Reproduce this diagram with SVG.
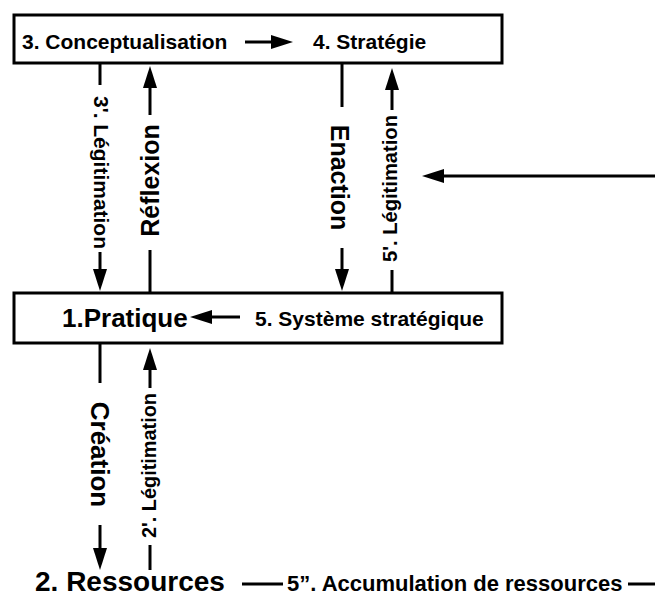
<svg xmlns="http://www.w3.org/2000/svg" width="655" height="598" viewBox="0 0 655 598">
<style>
  text { font-family: "Liberation Sans", Arial, sans-serif; font-weight: bold; fill: #000; }
  .box { fill: #fff; stroke: #000; stroke-width: 3; }
  .ln { stroke: #000; stroke-width: 3; fill: none; }
  .arr { stroke: #000; stroke-width: 3; fill: none; marker-end: url(#ah); }
  .t21 { font-size: 21px; }
  .lbl { font-size: 25px; text-anchor: middle; }
  .leg { font-size: 20px; text-anchor: middle; }
</style>
<defs>
  <marker id="ah" viewBox="0 0 22 14" markerWidth="22" markerHeight="14" refX="0" refY="7" orient="auto" markerUnits="userSpaceOnUse">
    <path d="M0,0 L22,7 L0,14 z" fill="#000"/>
  </marker>
</defs>
<rect width="655" height="598" fill="#fff"/>

<g id="box-top">
  <rect class="box" x="14" y="15" width="488" height="48"/>
  <g id="n-conceptualisation"><text class="t21" x="22" y="49">3. Conceptualisation</text></g>
  <g id="n-strategie"><text class="t21" x="313" y="49">4. Stratégie</text></g>
</g>

<g id="box-bottom">
  <rect class="box" x="14" y="293" width="488" height="50"/>
  <g id="n-pratique"><text x="62" y="327" style="font-size:26px">1.Pratique</text></g>
  <g id="n-systeme"><text class="t21" x="255" y="326">5. Système stratégique</text></g>
</g>

<g id="n-ressources"><text x="35" y="591" style="font-size:28px">2. Ressources</text></g>

<g id="connectors">
  <!-- 3 -> 4 -->
  <line class="arr" x1="245" y1="42" x2="271" y2="42"/>
  <!-- 5 -> 1 -->
  <line class="arr" x1="240" y1="317" x2="212" y2="317"/>

  <!-- 3'. Légitimation (down) -->
  <line class="ln" x1="100" y1="63" x2="100" y2="85"/>
  <line class="arr" x1="100" y1="252" x2="100" y2="269"/>
  <text class="leg" transform="translate(93.5,172.5) rotate(90)" textLength="153" lengthAdjust="spacingAndGlyphs">3'. Légitimation</text>

  <!-- Réflexion (up) -->
  <line class="ln" x1="150" y1="292" x2="150" y2="250"/>
  <line class="arr" x1="150" y1="115" x2="150" y2="88"/>
  <text class="lbl" transform="translate(158.5,180.5) rotate(-90)">Réflexion</text>

  <!-- Enaction (down) -->
  <line class="ln" x1="342" y1="63" x2="342" y2="107"/>
  <line class="arr" x1="342" y1="248" x2="342" y2="269"/>
  <text class="lbl" transform="translate(331,177.5) rotate(90)">Enaction</text>

  <!-- 5'. Légitimation (up) -->
  <line class="ln" x1="392" y1="292" x2="392" y2="270"/>
  <line class="arr" x1="392" y1="110" x2="392" y2="90"/>
  <text class="leg" transform="translate(397,188.5) rotate(-90)" textLength="147" lengthAdjust="spacingAndGlyphs">5'. Légitimation</text>

  <!-- Création (down) -->
  <line class="ln" x1="100" y1="343" x2="100" y2="383"/>
  <line class="arr" x1="100" y1="525" x2="100" y2="548"/>
  <text class="lbl" transform="translate(90.5,454.5) rotate(90)" style="font-size:26px">Création</text>

  <!-- 2'. Légitimation (up) -->
  <line class="ln" x1="150" y1="570" x2="150" y2="545"/>
  <line class="arr" x1="150" y1="388" x2="150" y2="370"/>
  <text class="leg" transform="translate(155.5,465.5) rotate(-90)" textLength="145" lengthAdjust="spacingAndGlyphs">2'. Légitimation</text>

  <!-- incoming from right -->
  <line class="arr" x1="655" y1="176" x2="444" y2="176"/>

  <!-- 5''. Accumulation de ressources -->
  <line class="ln" x1="242" y1="584" x2="283" y2="584"/>
  <line class="ln" x1="628" y1="584" x2="655" y2="584"/>
  <text x="287" y="591" style="font-size:22px">5”. Accumulation de ressources</text>
</g>
</svg>
